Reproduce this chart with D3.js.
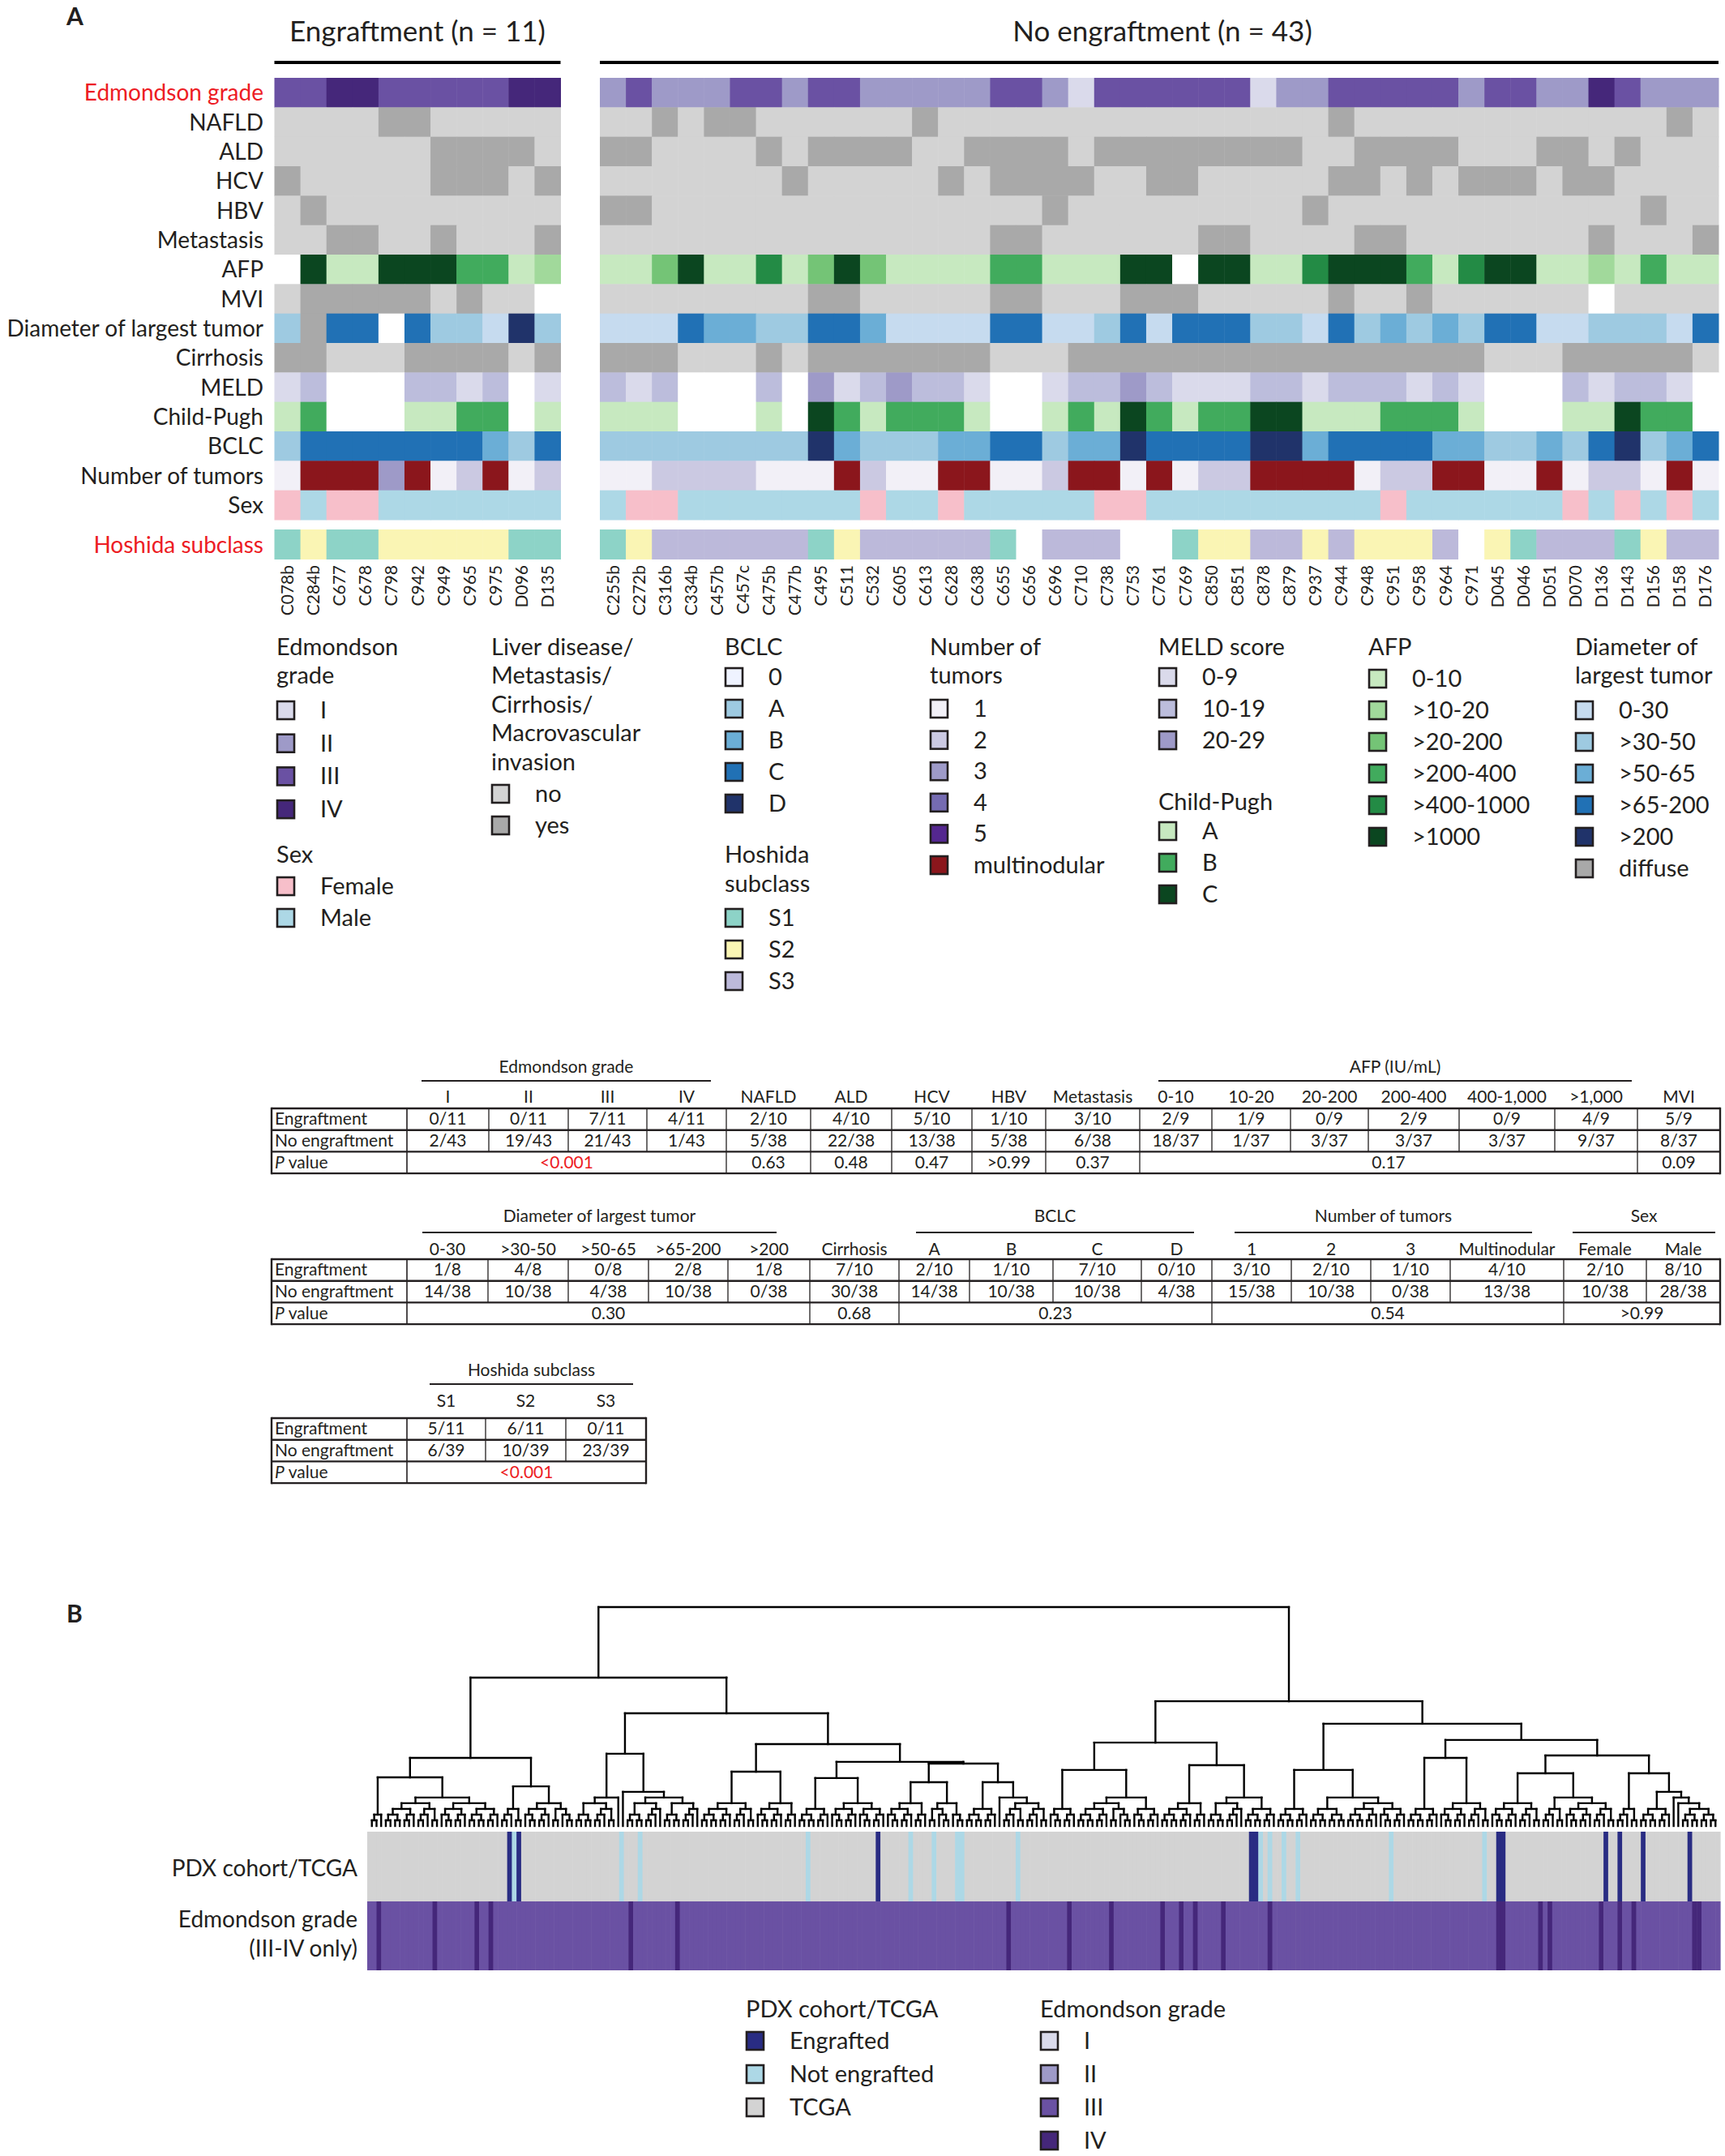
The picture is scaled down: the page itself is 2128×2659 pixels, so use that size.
<!DOCTYPE html>
<html><head><meta charset="utf-8">
<script src="https://cdn.jsdelivr.net/npm/d3@7"></script>
<style>
body{margin:0;background:#fff}
svg{display:block}
text{font-family:Lato,"Open Sans",sans-serif;fill:#231f20}
</style>
</head><body>
<script>
// ================= DATA =================
const engSamples = ["C078b","C284b","C677","C678","C798","C942","C949","C965","C975","D096","D135"];
const noSamples = ["C255b","C272b","C316b","C334b","C457b","C457c","C475b","C477b","C495","C511","C532","C605","C613","C628","C638","C655","C656","C696","C710","C738","C753","C761","C769","C850","C851","C878","C879","C937","C944","C948","C951","C958","C964","C971","D045","D046","D051","D070","D136","D143","D156","D158","D176"];

// values: 11 engraftment samples, then 43 no-engraftment samples (null = not available)
const edmondson = [3,3,4,4,3,3,3,3,3,4,4, 2,3,2,2,2,3,3,2,3,3, 2,2,2,2,2,3,3,2,1,3, 3,3,3,3,3,1,2,2,3,3, 3,3,3,2,3,3,2,2,4,3, 2,2,2];
const nafld = [0,0,0,0,1,1,0,0,0,0,0, 0,0,1,0,1,1,0,0,0,0, 0,0,1,0,0,0,0,0,0,0, 0,0,0,0,0,0,0,0,1,0, 0,0,0,0,0,0,0,0,0,0, 0,1,0];
const ald = [0,0,0,0,0,0,1,1,1,1,0, 1,1,0,0,0,0,1,0,1,1, 1,1,0,0,1,1,1,1,0,1, 1,1,1,1,1,1,1,0,0,1, 1,1,1,0,0,0,1,1,0,1, 0,0,0];
const hcv = [1,0,0,0,0,0,1,1,1,0,1, 0,0,0,0,0,0,0,1,0,0, 0,0,0,1,0,1,1,1,1,0, 0,1,1,0,0,0,0,0,1,1, 0,1,0,1,1,1,0,1,1,0, 0,0,0];
const hbv = [0,1,0,0,0,0,0,0,0,0,0, 1,1,0,0,0,0,0,0,0,0, 0,0,0,0,0,0,0,1,0,0, 0,0,0,0,0,0,0,1,0,0, 0,0,0,0,0,0,0,0,0,0, 1,0,0];
const metastasis = [0,0,1,1,0,0,1,0,0,0,1, 0,0,0,0,0,0,0,0,0,0, 0,0,0,0,0,1,1,0,0,0, 0,0,0,1,1,0,0,0,0,1, 1,0,0,0,0,0,0,0,1,0, 0,0,1];
const afp = [null,5,0,0,5,5,5,3,3,0,1, 0,0,2,5,0,0,4,0,2,5, 2,0,0,0,0,3,3,0,0,0, 5,5,null,5,5,0,0,4,5,5, 5,3,0,4,5,5,0,0,1,0, 3,0,0];
const mvi = [0,1,1,1,1,1,0,1,0,0,null, 0,0,0,0,0,0,0,0,1,1, 0,0,0,0,0,1,1,0,0,0, 1,1,1,0,0,0,0,0,1,0, 0,1,0,0,0,0,0,0,null,0, 0,0,0];
const diameter = [1,5,3,3,null,3,1,1,0,4,1, 0,0,0,3,2,2,1,1,3,3, 2,0,0,0,0,3,3,0,0,1, 3,0,3,3,3,1,1,0,3,1, 2,1,2,1,3,3,0,0,1,1, 1,0,3];
const cirrhosis = [1,1,0,0,0,1,1,1,1,0,1, 1,1,1,0,0,0,1,0,1,1, 1,1,1,1,1,0,0,0,1,1, 1,1,1,1,1,1,1,1,1,1, 1,1,1,1,0,0,0,1,1,1, 1,1,0];
const meld = [0,1,null,null,null,1,1,0,1,null,0, 1,0,1,null,null,null,1,null,2,0, 1,2,1,1,0,null,null,0,1,1, 2,1,0,0,0,1,1,0,1,1, 1,0,1,0,null,null,null,1,0,1, 1,0,null];
const childPugh = [0,1,null,null,null,0,0,1,1,null,0, 0,0,0,null,null,null,0,null,2,1, 0,1,1,1,0,null,null,0,1,0, 2,1,0,1,1,2,2,0,0,0, 1,1,1,0,null,null,null,0,0,2, 1,1,null];
const bclc = [1,3,3,3,3,3,3,3,2,1,3, 1,1,1,1,1,1,1,1,4,2, 1,1,1,2,2,3,3,1,2,2, 4,3,3,3,3,4,4,2,3,3, 3,3,2,2,1,1,2,1,3,4, 1,2,3];
const tumors = [0,5,5,5,2,5,0,1,5,0,1, 0,0,1,1,1,1,0,0,0,5, 1,0,0,5,5,0,0,1,5,5, 0,5,0,1,1,5,5,5,5,0, 1,1,5,5,0,0,5,0,1,1, 0,5,0];
const sex = ["F","M","F","F","M","M","M","M","M","M","M", "M","F","F","M","M","M","M","M","M","M", "F","M","M","F","M","M","M","M","M","F", "F","M","M","M","M","M","M","M","M","M", "F","M","M","M","M","M","M","F","M","F", "M","F","M"];
const hoshida = [1,2,1,1,2,2,2,2,2,1,1, 1,2,3,3,3,3,3,3,1,2, 3,3,3,3,3,1,null,3,3,3, null,null,1,2,2,3,3,2,3,2, 2,2,3,null,2,1,3,3,3,1, 2,3,3];

const rowNames = ["Edmondson grade","NAFLD","ALD","HCV","HBV","Metastasis","AFP","MVI","Diameter of largest tumor","Cirrhosis","MELD","Child-Pugh","BCLC","Number of tumors","Sex"];

// legend labels
const edmLabels = ["I","II","III","IV"];
const sexLabels = ["Female","Male"];
const ynLabels = ["no","yes"];
const bclcLabels = ["0","A","B","C","D"];
const hoshidaLabels = ["S1","S2","S3"];
const tumorLabels = ["1","2","3","4","5","multinodular"];
const meldLabels = ["0-9","10-19","20-29"];
const cpLabels = ["A","B","C"];
const afpLabels = ["0-10",">10-20",">20-200",">200-400",">400-1000",">1000"];
const diamLabels = ["0-30",">30-50",">50-65",">65-200",">200","diffuse"];

// tables
const t1Headers = ["I","II","III","IV","NAFLD","ALD","HCV","HBV","Metastasis","0-10","10-20","20-200","200-400","400-1,000",">1,000","MVI"];
const t1Eng = ["0/11","0/11","7/11","4/11","2/10","4/10","5/10","1/10","3/10","2/9","1/9","0/9","2/9","0/9","4/9","5/9"];
const t1No = ["2/43","19/43","21/43","1/43","5/38","22/38","13/38","5/38","6/38","18/37","1/37","3/37","3/37","3/37","9/37","8/37"];
const t1P = [{from:0,to:3,text:"<0.001",red:true},{from:4,to:4,text:"0.63"},{from:5,to:5,text:"0.48"},{from:6,to:6,text:"0.47"},{from:7,to:7,text:">0.99"},{from:8,to:8,text:"0.37"},{from:9,to:14,text:"0.17"},{from:15,to:15,text:"0.09"}];
const t1Groups = [{label:"Edmondson grade"},{label:"AFP (IU/mL)"}];

const t2Headers = ["0-30",">30-50",">50-65",">65-200",">200","Cirrhosis","A","B","C","D","1","2","3","Multinodular","Female","Male"];
const t2Eng = ["1/8","4/8","0/8","2/8","1/8","7/10","2/10","1/10","7/10","0/10","3/10","2/10","1/10","4/10","2/10","8/10"];
const t2No = ["14/38","10/38","4/38","10/38","0/38","30/38","14/38","10/38","10/38","4/38","15/38","10/38","0/38","13/38","10/38","28/38"];
const t2P = [{from:0,to:4,text:"0.30"},{from:5,to:5,text:"0.68"},{from:6,to:9,text:"0.23"},{from:10,to:13,text:"0.54"},{from:14,to:15,text:">0.99"}];
const t2Groups = [{label:"Diameter of largest tumor"},{label:"BCLC"},{label:"Number of tumors"},{label:"Sex"}];

const t3Headers = ["S1","S2","S3"];
const t3Eng = ["5/11","6/11","0/11"];
const t3No = ["6/39","10/39","23/39"];
const t3P = [{from:0,to:2,text:"<0.001",red:true}];
const t3Groups = [{label:"Hoshida subclass"}];

// panel B dendrogram (Newick-like: x = leaf, letters = small sub-clusters, number after ")" = merge height)
const motifs = {a:"(xx)", b:"((xx)x)", c:"(x(xx))", d:"((xx)(xx))", e:"(((xx)x)(xx))", f:"((xx)(x(xx)))", g:"((x(xx))((xx)x))", h:"(((xx)(xx))((xx)x))", k:"(((xx)(xx))(((xx)x)x))"};
const cLLL = "(b((he)(gh)))22.2", cLLR = "((ba)(gf))18.1", cLRL = "(((de)x)(x(kk)))33",
      cLRRL = "((he)(gb))24.8", cLRRRA = "(h(gg))21.9", cLRRRC = "((gb)(fc))20", cLRRRD = "(h(x(ee)))20",
      cRLL = "(g((hf)g))25.6", cRLR = "((hb)(kh))27.8", cRRL = "(h((dd)(hg)))25.6", cRRRL = "(h(ge))31.1",
      cRRRRL = "((ge)(e(ge)))24.1", cRRRRR = "(e(h(x(x(dd)))))24.1";
const treeString =
  "(" +
    "(" + "(" + cLLL + cLLR + ")31.1" +
      "(" + cLRL + "(" + cLRRL + "(" + cLRRRA + "(" + cLRRRC + cLRRRD + ")28.5" + ")29.3" + ")37.4" + ")51.5" +
    ")67.8" +
    "(" + "(" + cRLL + cRLR + ")38.1" +
      "(" + cRRL + "(" + cRRRL + "(" + cRRRRL + cRRRRR + ")32.2" + ")39.3" + ")46.7" +
    ")57" +
  ")100";
const engraftedLeaves = [30,32,109,189,190,242,243,265,268,273,283];
const notEngraftedLeaves = [31,54,58,94,116,121,126,127,139,191,193,196,199,219,239];
const gradeIVLeaves = [2,14,23,26,56,66,137,150,159,170,174,177,183,193,242,243,251,253,264,268,271,284,285];
const pdxLabels = ["Engrafted","Not engrafted","TCGA"];

// ================= DRAWING =================
const INK = "#231f20", RED = "#ed1c24";
const svg = d3.select("body").append("svg").attr("width",2128).attr("height",2659);

const cEdm = d3.scaleOrdinal().domain([1,2,3,4]).range(["#dadaeb","#9e9ac8","#6a51a3","#45277a"]);
const cYN = d3.scaleOrdinal().domain([0,1]).range(["#d3d3d3","#a9a9a9"]);
const cAfp = d3.scaleOrdinal().domain([0,1,2,3,4,5]).range(["#c7e9c0","#a1d99b","#74c476","#41ab5d","#238b45","#0b4620"]);
const cDiam = d3.scaleOrdinal().domain([0,1,2,3,4,5]).range(["#c6dbef","#9ecae1","#6baed6","#2171b5","#20336a","#a9a9a9"]);
const cMeld = d3.scaleOrdinal().domain([0,1,2]).range(["#dadaeb","#bcbddc","#9e9ac8"]);
const cCP = d3.scaleOrdinal().domain([0,1,2]).range(["#c7e9c0","#41ab5d","#0b4620"]);
const cBclc = d3.scaleOrdinal().domain([0,1,2,3,4]).range(["#eff3ff","#9ecae1","#6baed6","#2171b5","#20336a"]);
const cTum = d3.scaleOrdinal().domain([0,1,2,3,4,5]).range(["#f2f0f7","#cbc9e2","#9e9ac8","#756bb1","#54278f","#8b161c"]);
const cSex = d3.scaleOrdinal().domain(["F","M"]).range(["#f7bfca","#add8e6"]);
const cHos = d3.scaleOrdinal().domain([1,2,3]).range(["#8dd3c7","#faf5b4","#bcb9da"]);
const cPdx = d3.scaleOrdinal().domain(pdxLabels).range(["#292c83","#add8e6","#d3d3d3"]);

const rowData = [
  [edmondson,cEdm],[nafld,cYN],[ald,cYN],[hcv,cYN],[hbv,cYN],[metastasis,cYN],[afp,cAfp],[mvi,cYN],
  [diameter,cDiam],[cirrhosis,cYN],[meld,cMeld],[childPugh,cCP],[bclc,cBclc],[tumors,cTum],[sex,cSex]
];

function text(g, x, y, s, size, o={}) {
  const t = g.append("text").attr("x",x).attr("y",y).attr("font-size",size).text(s);
  if (o.anchor) t.attr("text-anchor",o.anchor);
  if (o.fill) t.style("fill",o.fill);
  if (o.weight) t.attr("font-weight",o.weight);
  return t;
}

// ---- Panel A heatmap ----
const A = svg.append("g");
text(A, 82, 31, "A", 30, {weight:"bold"});
const allSamples = engSamples.concat(noSamples);
const xEng = d3.scaleBand().domain(engSamples).range([338.5, 691.5]);
const xNo = d3.scaleBand().domain(noSamples).range([740, 2120]);
const xS = s => engSamples.includes(s) ? xEng(s) : xNo(s);
const bw = xEng.bandwidth();
const yRow = d3.scaleBand().domain(rowNames).range([96, 641]);
const yHos = d3.scaleBand().domain(["Hoshida subclass"]).range([653, 690]);

text(A, (338.5+691.5)/2, 51, "Engraftment (n = 11)", 35, {anchor:"middle"});
text(A, 1434, 51, "No engraftment (n = 43)", 35, {anchor:"middle"});
A.append("line").attr("x1",338.5).attr("x2",691.5).attr("y1",77).attr("y2",77).attr("stroke","#000").attr("stroke-width",4);
A.append("line").attr("x1",740).attr("x2",2120).attr("y1",77).attr("y2",77).attr("stroke","#000").attr("stroke-width",4);

rowNames.forEach((name, r) => {
  const [vals, sc] = rowData[r];
  A.append("g").selectAll("rect").data(allSamples).join("rect")
    .attr("x", s => xS(s)).attr("width", bw + 0.5)
    .attr("y", yRow(name)).attr("height", yRow.bandwidth() + 0.5)
    .attr("fill", (s,i) => vals[i] == null ? "#fff" : sc(vals[i]));
  text(A, 325, yRow(name) + yRow.bandwidth()/2 + 10, name, 28, {anchor:"end", fill: name === "Edmondson grade" ? RED : INK});
});
A.append("g").selectAll("rect").data(allSamples).join("rect")
  .attr("x", s => xS(s)).attr("width", bw + 0.5)
  .attr("y", yHos("Hoshida subclass")).attr("height", yHos.bandwidth())
  .attr("fill", (s,i) => hoshida[i] == null ? "#fff" : cHos(hoshida[i]));
text(A, 325, yHos("Hoshida subclass") + yHos.bandwidth()/2 + 10, "Hoshida subclass", 28, {anchor:"end", fill:RED});

A.append("g").selectAll("text").data(allSamples).join("text")
  .attr("transform", s => `translate(${xS(s) + bw/2 + 7.5},697) rotate(-90)`)
  .attr("text-anchor","end").attr("font-size",21).text(s => s);

// ---- Panel A legend ----
function legendBlock(g, x, titleLines, titleY, labels, colorOf, firstY, step) {
  titleLines.forEach((t,i) => text(g, x, titleY + i*35.5 + 10, t, 29));
  labels.forEach((l,i) => {
    const cy = firstY + i*step;
    g.append("rect").attr("x", x+1).attr("y", cy-11).attr("width",21).attr("height",22)
      .attr("fill", colorOf(i)).attr("stroke", INK).attr("stroke-width", 2.6);
    text(g, x + 54, cy + 10, l, 29);
  });
}
const L = svg.append("g");
legendBlock(L, 341, ["Edmondson","grade"], 797.6, edmLabels, i => cEdm(i+1), 876, 40.7);
legendBlock(L, 341, ["Sex"], 1054, sexLabels, i => cSex(["F","M"][i]), 1093, 39);
legendBlock(L, 606, ["Liver disease/","Metastasis/","Cirrhosis/","Macrovascular","invasion"], 797.6, ynLabels, i => cYN(i), 979, 39);
legendBlock(L, 894, ["BCLC"], 797.6, bclcLabels, i => cBclc(i), 835, 39);
legendBlock(L, 894, ["Hoshida","subclass"], 1054, hoshidaLabels, i => cHos(i+1), 1132, 39);
legendBlock(L, 1147, ["Number of","tumors"], 797.6, tumorLabels, i => cTum(i), 874, 38.6);
legendBlock(L, 1429, ["MELD score"], 797.6, meldLabels, i => cMeld(i), 835, 39);
legendBlock(L, 1429, ["Child-Pugh"], 989, cpLabels, i => cCP(i), 1025, 39);
legendBlock(L, 1688, ["AFP"], 797.6, afpLabels, i => cAfp(i), 837, 39);
legendBlock(L, 1943, ["Diameter of","largest tumor"], 797.6, diamLabels, i => cDiam(i), 876, 39);

// ---- Tables ----
function drawTable(cfg) {
  const g = svg.append("g");
  const {cols, top, rowH, headers, eng, no, pv, groups, groupLines, groupY, lineY, headerY} = cfg;
  const x0 = cols[0], x1 = cols[cols.length-1];
  const ys = [0,1,2,3].map(k => top + k*rowH);
  const fs = 21;
  groups.forEach((gr,i) => {
    const [a,b] = groupLines[i];
    g.append("line").attr("x1",a).attr("x2",b).attr("y1",lineY).attr("y2",lineY).attr("stroke",INK).attr("stroke-width",2.2);
    text(g, (a+b)/2, groupY + 7, gr.label, fs, {anchor:"middle"});
  });
  headers.forEach((h,i) => text(g, (cols[i+1]+cols[i+2])/2, headerY + 7, h, fs, {anchor:"middle"}));
  text(g, x0 + 4, ys[0] + rowH/2 + 7, "Engraftment", fs);
  text(g, x0 + 4, ys[1] + rowH/2 + 7, "No engraftment", fs);
  const pt = text(g, x0 + 4, ys[2] + rowH/2 + 7, "", fs);
  pt.append("tspan").attr("font-style","italic").text("P");
  pt.append("tspan").text(" value");
  eng.forEach((v,i) => text(g, (cols[i+1]+cols[i+2])/2, ys[0] + rowH/2 + 7, v, fs, {anchor:"middle"}));
  no.forEach((v,i) => text(g, (cols[i+1]+cols[i+2])/2, ys[1] + rowH/2 + 7, v, fs, {anchor:"middle"}));
  pv.forEach(p => text(g, (cols[p.from+1]+cols[p.to+2])/2, ys[2] + rowH/2 + 7, p.text, fs, {anchor:"middle", fill: p.red ? RED : INK}));
  for (let i = 2; i < cols.length-1; i++)
    g.append("line").attr("x1",cols[i]).attr("x2",cols[i]).attr("y1",ys[0]).attr("y2",ys[2]).attr("stroke",INK).attr("stroke-width",1.3);
  pv.forEach(p => {
    const xb = cols[p.to+2];
    if (xb < x1) g.append("line").attr("x1",xb).attr("x2",xb).attr("y1",ys[2]).attr("y2",ys[3]).attr("stroke",INK).attr("stroke-width",1.3);
  });
  g.append("line").attr("x1",cols[1]).attr("x2",cols[1]).attr("y1",ys[0]).attr("y2",ys[3]).attr("stroke",INK).attr("stroke-width",1.6);
  ys.forEach(yv => g.append("line").attr("x1",x0).attr("x2",x1).attr("y1",yv).attr("y2",yv).attr("stroke",INK).attr("stroke-width",2.4));
  [x0,x1].forEach(xv => g.append("line").attr("x1",xv).attr("x2",xv).attr("y1",ys[0]-1.2).attr("y2",ys[3]+1.2).attr("stroke",INK).attr("stroke-width",2.4));
}
drawTable({cols:[335,502,603,701,798,896,1000,1100,1199,1290,1406,1495,1592,1688,1800,1918,2020,2122],
  top:1367, rowH:26.7, headers:t1Headers, eng:t1Eng, no:t1No, pv:t1P, groups:t1Groups,
  groupLines:[[520,877],[1429,2013]], groupY:1316, lineY:1333, headerY:1353});
drawTable({cols:[335,502,602,701,800,898,999,1109,1196,1299,1408,1495,1593,1691,1789,1929,2031,2122],
  top:1553, rowH:26.7, headers:t2Headers, eng:t2Eng, no:t2No, pv:t2P, groups:t2Groups,
  groupLines:[[521,958],[1130,1473],[1523,1890],[1940,2116]], groupY:1500, lineY:1520, headerY:1541});
drawTable({cols:[335,502,599,698,797],
  top:1749, rowH:26.7, headers:t3Headers, eng:t3Eng, no:t3No, pv:t3P, groups:t3Groups,
  groupLines:[[530,781]], groupY:1690, lineY:1707, headerY:1728});

// ---- Panel B ----
const B = svg.append("g");
text(B, 82, 2001, "B", 30, {weight:"bold"});

function parseTree(s) {
  let i = 0;
  function node() {
    if (s[i] === "x") { i++; return {}; }
    i++; // "("
    const children = [];
    while (s[i] !== ")") children.push(node());
    i++;
    let num = "";
    while (i < s.length && /[0-9.]/.test(s[i])) num += s[i++];
    const n = {children};
    if (num) n.h = +num;
    return n;
  }
  return node();
}
const expanded = treeString.replace(/[a-k]/g, m => motifs[m]);
const root = d3.hierarchy(parseTree(expanded));
const nLeaves = root.leaves().length;
const xLeaf = d3.scaleBand().domain(d3.range(nLeaves)).range([453, 2122]);
const lw = xLeaf.bandwidth();
d3.cluster().size([(2122 - lw/2) - (453 + lw/2), 1]).separation(() => 1)(root);
const yD = d3.scaleLinear().domain([0, 100]).range([2252, 1982]);
const hOf = d => d.data.h !== undefined ? d.data.h : d.height * 2.6;
const dg = B.append("g").attr("stroke","#000").attr("stroke-width",2.4).attr("fill","none").attr("stroke-linecap","square");
root.descendants().forEach(d => {
  if (!d.children) return;
  const y = yD(hOf(d));
  const xs = d.children.map(c => c.x + 453 + lw/2);
  dg.append("line").attr("x1", d3.min(xs)).attr("x2", d3.max(xs)).attr("y1", y).attr("y2", y);
  d.children.forEach((c,j) => dg.append("line").attr("x1", xs[j]).attr("x2", xs[j]).attr("y1", y).attr("y2", yD(hOf(c))));
});

const pdxOf = i => engraftedLeaves.includes(i) ? "Engrafted" : (notEngraftedLeaves.includes(i) ? "Not engrafted" : "TCGA");
const gradeOf = i => gradeIVLeaves.includes(i) ? 4 : 3;
B.append("g").selectAll("rect").data(d3.range(nLeaves)).join("rect")
  .attr("x", i => xLeaf(i)).attr("width", lw + 0.6).attr("y", 2259).attr("height", 86)
  .attr("fill", i => cPdx(pdxOf(i)));
B.append("g").selectAll("rect").data(d3.range(nLeaves)).join("rect")
  .attr("x", i => xLeaf(i)).attr("width", lw + 0.6).attr("y", 2345).attr("height", 85)
  .attr("fill", i => cEdm(gradeOf(i)));
text(B, 441, 2314, "PDX cohort/TCGA", 28, {anchor:"end"});
text(B, 441, 2377, "Edmondson grade", 28, {anchor:"end"});
text(B, 441, 2413, "(III-IV only)", 28, {anchor:"end"});

legendBlock(B, 920, ["PDX cohort/TCGA"], 2478, pdxLabels, i => cPdx(pdxLabels[i]), 2517, 41);
legendBlock(B, 1283, ["Edmondson grade"], 2478, edmLabels, i => cEdm(i+1), 2517, 41);
</script>
</body></html>
